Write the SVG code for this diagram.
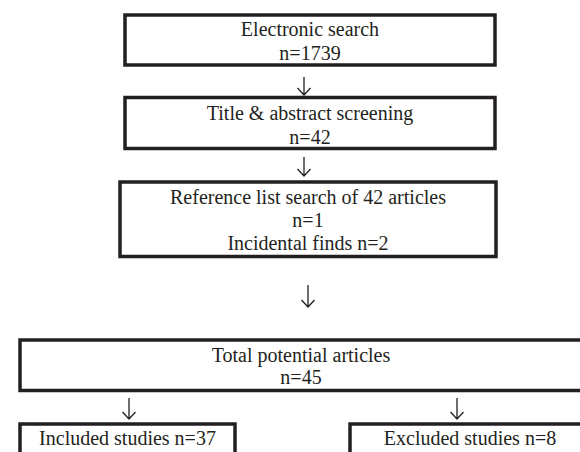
<svg xmlns="http://www.w3.org/2000/svg" width="580" height="452" viewBox="0 0 580 452">
<style>
.box{fill:#ffffff;stroke:#231f20;stroke-width:3.5}
.t{font-family:"Liberation Serif","Times New Roman",serif;font-size:20px;fill:#231f20;text-anchor:middle}
.arr{fill:none;stroke:#231f20;stroke-width:1.3}
</style>
<rect width="580" height="452" fill="#ffffff"/>
<g id="connectors">
<path class="arr" d="M304,77 V95 M297.5,88 L304,95 L310.5,88"/>
<path class="arr" d="M304,157 V176 M297.5,169 L304,176 L310.5,169"/>
<path class="arr" d="M308,285 V307 M301.5,300 L308,307 L314.5,300"/>
<path class="arr" d="M129,398 V419 M122.5,412 L129,419 L135.5,412"/>
<path class="arr" d="M457,398 V419 M450.5,412 L457,419 L463.5,412"/>
</g>
<g id="electronic">
<rect class="box" x="125" y="15" width="370" height="50"/>
<text class="t" x="310" y="36">Electronic search</text>
<text class="t" x="310" y="60">n=1739</text>
</g>
<g id="screening">
<rect class="box" x="125" y="97.5" width="370" height="51"/>
<text class="t" x="310" y="120">Title &amp; abstract screening</text>
<text class="t" x="310" y="144">n=42</text>
</g>
<g id="reference">
<rect class="box" x="120" y="182" width="376" height="74.5"/>
<text class="t" x="308" y="204">Reference list search of 42 articles</text>
<text class="t" x="308" y="227">n=1</text>
<text class="t" x="308" y="250">Incidental finds n=2</text>
</g>
<g id="total">
<rect class="box" x="20" y="340" width="562" height="50.5"/>
<text class="t" x="301" y="362">Total potential articles</text>
<text class="t" x="301" y="384">n=45</text>
</g>
<g id="included">
<rect class="box" x="20" y="424" width="215" height="60"/>
<text class="t" x="127.5" y="445">Included studies n=37</text>
</g>
<g id="excluded">
<rect class="box" x="350" y="424" width="240" height="60"/>
<text class="t" x="470" y="445">Excluded studies n=8</text>
</g>
</svg>
